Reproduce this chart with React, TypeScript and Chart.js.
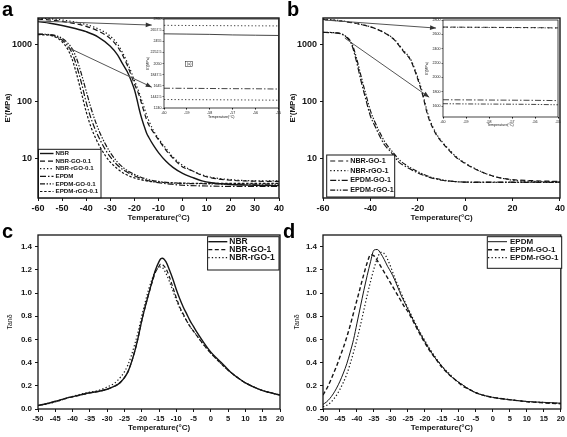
import React, { useEffect, useRef } from "react";
import { Chart, registerables } from "chart.js";

Chart.register(...registerables);

const FONT = "'Liberation Sans', Arial, Helvetica, sans-serif";
const INK = "#151515";

// ---------------- data ----------------
// Panel a : storage modulus E' (MPa), 0.1 phr fillers
const T_A_NBR = [-60, -55, -50, -45, -40, -35, -30, -27, -25, -23, -21, -20, -19, -18, -17, -16, -15, -14, -12, -10, -7, -4, 0, 4, 8, 12, 20, 30, 40];
const E_A_NBR = [2480, 2320, 2120, 1900, 1650, 1330, 920, 650, 460, 330, 210, 160, 110, 72, 50, 37, 28, 23, 16.5, 12.5, 8.9, 6.9, 5.4, 4.6, 4.0, 3.7, 3.45, 3.35, 3.3];
const E_A_NBR_GO = [2750, 2650, 2500, 2300, 2050, 1700, 1250, 900, 650, 430, 260, 200, 160, 125, 90, 65, 48, 38, 28, 21, 14, 10, 7, 6, 5, 4.5, 4.1, 3.95, 3.9];
const E_A_NBR_RGO = [2850, 2780, 2650, 2450, 2200, 1850, 1380, 1000, 720, 480, 300, 230, 180, 140, 105, 78, 58, 45, 30, 22, 15, 10.5, 7.5, 6, 5.1, 4.6, 4.2, 4.0, 4.0];
const T_A_EPDM = [-60, -57, -54, -52, -50, -48, -46, -44, -42, -40, -38, -36, -34, -32, -30, -27, -24, -20, -15, -10, -5, 0, 10, 20, 30, 40];
const E_A_EPDM = [1480, 1470, 1420, 1330, 1180, 980, 720, 420, 210, 95, 50, 30, 20, 14, 10.5, 7.5, 6, 4.9, 4.1, 3.7, 3.5, 3.35, 3.25, 3.2, 3.2, 3.2];
const E_A_EPDM_GO = [1500, 1490, 1450, 1380, 1260, 1080, 850, 560, 300, 150, 75, 42, 26, 17.5, 12.5, 8.5, 6.5, 5.2, 4.3, 3.9, 3.7, 3.6, 3.55, 3.5, 3.5, 3.5];
const E_A_EPDM_RGO = [1460, 1450, 1390, 1280, 1100, 860, 570, 300, 140, 65, 35, 22, 15, 11, 8.5, 6.5, 5.3, 4.5, 4, 3.8, 3.7, 3.65, 3.6, 3.6, 3.6, 3.6];

// Inset of panel a
const T_IA = [-60, -59, -58, -57, -56, -55];
const E_IA_1 = [2745, 2742, 2740, 2738, 2736, 2734];
const E_IA_2 = [2590, 2585, 2580, 2570, 2565, 2560];
const E_IA_3 = [1600, 1598, 1595, 1592, 1590, 1585];
const E_IA_4 = [1395, 1392, 1390, 1388, 1385, 1382];

// Panel b : storage modulus E' (MPa), 1 phr fillers
const T_B_NBR = [-60, -55, -50, -45, -40, -35, -30, -28, -26, -24, -23, -21, -19, -18, -17, -16, -15, -14, -12, -10, -7, -4, 0, 4, 8, 12, 16, 20, 30, 40];
const E_B_NBR_GO = [2700, 2600, 2450, 2250, 2000, 1650, 1200, 950, 740, 600, 520, 320, 180, 130, 88, 60, 45, 36, 25, 19.5, 14, 10.5, 8, 6.5, 5.5, 4.8, 4.4, 4.2, 4.0, 3.9];
const E_B_NBR_RGO = [2750, 2640, 2480, 2270, 2010, 1660, 1220, 980, 770, 620, 540, 340, 195, 140, 95, 65, 48, 38, 26, 20, 14.5, 10.8, 8.2, 6.6, 5.5, 4.8, 4.4, 4.1, 3.9, 3.85];
const T_B_EPDM = [-60, -57, -54, -52, -50, -48, -46, -44, -42, -40, -38, -36, -34, -32, -30, -28, -25, -20, -15, -10, -5, 0, 10, 20, 30, 40];
const E_B_EPDM_GO = [1600, 1590, 1560, 1480, 1300, 1000, 520, 230, 110, 55, 36, 24, 17, 13.7, 11, 8.5, 7.1, 5.5, 4.6, 4.1, 3.9, 3.8, 3.8, 3.8, 3.8, 3.8];
const E_B_EPDM_RGO = [1610, 1600, 1570, 1500, 1340, 1060, 600, 280, 135, 68, 42, 28, 19.5, 15, 12, 9.5, 7.6, 5.8, 4.7, 4.2, 3.9, 3.8, 3.75, 3.75, 3.75, 3.75];

// Inset of panel b
const T_IB = [-60, -59, -58, -57, -56, -55];
const E_IB_1 = [2702, 2700, 2698, 2696, 2694, 2690];
const E_IB_2 = [2700, 2698, 2696, 2694, 2692, 2688];
const E_IB_3 = [1690, 1688, 1686, 1684, 1682, 1678];
const E_IB_4 = [1635, 1632, 1630, 1628, 1625, 1620];

// Panel c : tan delta, NBR
const T_C = [-50, -47, -44, -41, -38, -35, -32, -30, -28, -27, -26, -25, -24, -23, -22, -21, -20, -19, -18, -17, -16, -15, -14.5, -14, -13, -12, -11, -10, -9, -8, -7, -6, -5, -4, -2, 0, 2, 4, 6, 8, 10, 12, 14, 16, 18, 20];
const D_C_NBR = [0.03, 0.05, 0.075, 0.1, 0.12, 0.14, 0.155, 0.17, 0.195, 0.21, 0.235, 0.27, 0.32, 0.4, 0.5, 0.62, 0.76, 0.88, 0.99, 1.1, 1.2, 1.27, 1.295, 1.3, 1.27, 1.2, 1.12, 1.03, 0.95, 0.88, 0.82, 0.76, 0.71, 0.66, 0.57, 0.49, 0.43, 0.37, 0.31, 0.265, 0.225, 0.195, 0.17, 0.15, 0.135, 0.12];
const D_C_NBR_GO = [0.03, 0.05, 0.072, 0.098, 0.118, 0.138, 0.155, 0.17, 0.195, 0.21, 0.235, 0.27, 0.32, 0.4, 0.5, 0.62, 0.76, 0.88, 0.99, 1.09, 1.18, 1.23, 1.25, 1.245, 1.21, 1.14, 1.05, 0.96, 0.88, 0.82, 0.76, 0.71, 0.67, 0.63, 0.55, 0.48, 0.42, 0.36, 0.31, 0.265, 0.225, 0.195, 0.17, 0.15, 0.135, 0.12];
const D_C_NBR_RGO = [0.03, 0.045, 0.07, 0.1, 0.125, 0.145, 0.165, 0.19, 0.22, 0.245, 0.28, 0.32, 0.38, 0.46, 0.56, 0.67, 0.8, 0.92, 1.03, 1.12, 1.19, 1.22, 1.225, 1.22, 1.17, 1.1, 1.02, 0.94, 0.87, 0.81, 0.76, 0.71, 0.67, 0.63, 0.55, 0.48, 0.42, 0.36, 0.31, 0.265, 0.225, 0.195, 0.17, 0.15, 0.135, 0.12];

// Panel d : tan delta, EPDM
const T_D = [-50, -49, -48, -47, -46, -45, -44, -43, -42, -41, -40, -39, -38, -37, -36, -35, -34, -33, -32, -31, -30, -29, -28, -27, -26, -25, -23, -21, -19, -17, -15, -13, -11, -9, -7, -5, -3, 0, 5, 10, 15, 20];
const D_D_EPDM = [0.04, 0.06, 0.09, 0.13, 0.18, 0.24, 0.31, 0.39, 0.49, 0.6, 0.74, 0.88, 1.02, 1.15, 1.27, 1.37, 1.375, 1.34, 1.29, 1.23, 1.18, 1.12, 1.05, 0.98, 0.92, 0.86, 0.74, 0.63, 0.53, 0.44, 0.37, 0.3, 0.25, 0.21, 0.17, 0.14, 0.12, 0.1, 0.08, 0.065, 0.057, 0.05];
const D_D_EPDM_GO = [0.12, 0.17, 0.23, 0.3, 0.37, 0.45, 0.53, 0.62, 0.72, 0.83, 0.94, 1.05, 1.16, 1.26, 1.33, 1.32, 1.28, 1.23, 1.18, 1.13, 1.08, 1.03, 0.98, 0.93, 0.88, 0.84, 0.73, 0.62, 0.52, 0.44, 0.36, 0.3, 0.25, 0.2, 0.17, 0.14, 0.12, 0.1, 0.08, 0.063, 0.053, 0.045];
const D_D_EPDM_RGO = [0.02, 0.03, 0.05, 0.08, 0.12, 0.17, 0.23, 0.3, 0.39, 0.49, 0.6, 0.72, 0.85, 0.98, 1.1, 1.21, 1.3, 1.35, 1.34, 1.29, 1.22, 1.14, 1.07, 1.0, 0.93, 0.87, 0.75, 0.64, 0.54, 0.45, 0.37, 0.31, 0.25, 0.21, 0.17, 0.14, 0.12, 0.1, 0.08, 0.065, 0.056, 0.048];

const E_TICKS = [10, 100, 1000];

// ---------------- styles ----------------
const SOLID: number[] = [];
const DASH = [5, 3];
const DOT = [1.3, 2.2];
const DASH_DOT = [6, 2, 1.5, 2];
const DASH_DOT_DOT = [5, 1.6, 1.4, 1.6, 1.4, 1.6];
const SHORT_DASH = [2.4, 1.8];

type Line = { label: string; t: number[]; v: number[]; dash: number[]; width?: number };

function toDataset(l: Line) {
  return {
    label: l.label,
    data: l.t.map((x, i) => ({ x, y: l.v[i] })),
    borderColor: INK,
    borderWidth: l.width ?? 1.2,
    borderDash: l.dash,
    pointRadius: 0,
    fill: false,
    cubicInterpolationMode: "monotone",
  };
}

const decor = {
  id: "decor",
  beforeDraw(chart: any, _a: any, o: any) {
    if (!o || !o.fill) return;
    const { ctx, chartArea: ca } = chart;
    ctx.save();
    ctx.fillStyle = "#fff";
    ctx.fillRect(ca.left, ca.top, ca.right - ca.left, ca.bottom - ca.top);
    ctx.restore();
  },
  afterDraw(chart: any, _a: any, o: any) {
    if (!o) return;
    const { ctx, chartArea: ca } = chart;
    const xs = chart.scales.x;
    const ys = chart.scales.y;
    ctx.save();
    (o.arrows || []).forEach((a: any) => {
      const x1 = xs.getPixelForValue(a.from[0]);
      const y1 = ys.getPixelForValue(a.from[1]);
      const x2 = xs.getPixelForValue(a.to[0]);
      const y2 = ys.getPixelForValue(a.to[1]);
      ctx.setLineDash([]);
      ctx.strokeStyle = "#555";
      ctx.lineWidth = 1;
      ctx.beginPath();
      ctx.moveTo(x1, y1);
      ctx.lineTo(x2, y2);
      ctx.stroke();
      const ang = Math.atan2(y2 - y1, x2 - x1);
      const L = 6, W = 2.4;
      const c = Math.cos(ang), s = Math.sin(ang);
      ctx.fillStyle = "#333";
      ctx.beginPath();
      ctx.moveTo(x2, y2);
      ctx.lineTo(x2 - L * c + W * s, y2 - L * s - W * c);
      ctx.lineTo(x2 - L * c - W * s, y2 - L * s + W * c);
      ctx.closePath();
      ctx.fill();
    });
    (o.notes || []).forEach((n: any) => {
      ctx.font = `${n.size}px ${FONT}`;
      ctx.fillStyle = INK;
      ctx.textAlign = "center";
      ctx.textBaseline = "middle";
      const x = xs.getPixelForValue(n.at[0]);
      const y = ys.getPixelForValue(n.at[1]);
      ctx.fillText(n.text, x, y);
      ctx.lineWidth = 0.5;
      ctx.strokeStyle = INK;
      ctx.strokeRect(x - 3.5, y - 2.5, 7, 5);
    });
    ctx.setLineDash([]);
    ctx.strokeStyle = INK;
    ctx.lineWidth = o.frame || 1.2;
    ctx.strokeRect(ca.left, ca.top, ca.right - ca.left, ca.bottom - ca.top);
    const lg = o.legend;
    if (lg) {
      const bx = ca.left + lg.x, by = ca.top + lg.y;
      ctx.fillStyle = "#fff";
      ctx.fillRect(bx, by, lg.w, lg.h);
      ctx.lineWidth = 1;
      ctx.strokeStyle = INK;
      ctx.strokeRect(bx, by, lg.w, lg.h);
      ctx.font = `bold ${lg.size}px ${FONT}`;
      ctx.textBaseline = "middle";
      ctx.textAlign = "left";
      chart.data.datasets.forEach((d: any, i: number) => {
        const y = by + lg.first + i * lg.gap;
        ctx.setLineDash(d.borderDash || []);
        ctx.lineWidth = d.borderWidth;
        ctx.strokeStyle = d.borderColor;
        ctx.beginPath();
        ctx.moveTo(bx + lg.l0, y);
        ctx.lineTo(bx + lg.l1, y);
        ctx.stroke();
        ctx.setLineDash([]);
        ctx.fillStyle = INK;
        ctx.fillText(d.label, bx + lg.tx, y);
      });
    }
    if (o.letter) {
      ctx.font = `bold 20px ${FONT}`;
      ctx.fillStyle = "#000";
      ctx.textAlign = "left";
      ctx.textBaseline = "alphabetic";
      ctx.fillText(o.letter.text, o.letter.x, o.letter.y);
    }
    ctx.restore();
  },
};

function tempAxis(min: number, max: number, step: number, tickSize: number, titleSize: number, height: number, titlePad: number, tickLen = 3, tickPad = 2, bold = true) {
  return {
    type: "linear",
    min,
    max,
    ticks: {
      stepSize: step,
      autoSkip: false,
      maxRotation: 0,
      includeBounds: false,
      maxTicksLimit: 200,
      padding: tickPad,
      color: INK,
      font: { family: FONT, size: tickSize, weight: bold ? "bold" : "normal" },
      callback: (v: any) => String(v),
    },
    grid: { drawOnChartArea: false, drawTicks: true, tickLength: tickLen, color: INK, lineWidth: 1 },
    border: { display: false },
    title: {
      display: true,
      text: "Temperature(°C)",
      color: INK,
      font: { family: FONT, size: titleSize, weight: bold ? "bold" : "normal" },
      padding: { top: 0, bottom: titlePad },
    },
    afterFit: (s: any) => {
      s.height = height;
    },
  };
}

function modAxis(width: number, titlePad: number) {
  return {
    type: "logarithmic",
    min: 2,
    max: 2870,
    afterBuildTicks: (s: any) => {
      s.ticks = E_TICKS.map((v) => ({ value: v, major: true }));
    },
    ticks: {
      autoSkip: false,
      padding: 3,
      color: INK,
      font: { family: FONT, size: 9, weight: "bold" },
      callback: (v: any) => String(v),
    },
    grid: { drawOnChartArea: false, drawTicks: true, tickLength: 3, color: INK, lineWidth: 1 },
    border: { display: false },
    title: {
      display: true,
      text: "E'(MPa)",
      color: INK,
      font: { family: FONT, size: 8, weight: "bold" },
      padding: { top: titlePad, bottom: 0 },
    },
    afterFit: (s: any) => {
      s.width = width;
    },
  };
}

function tanAxis(width: number, titlePad: number) {
  return {
    type: "linear",
    min: 0,
    max: 1.5,
    ticks: {
      stepSize: 0.2,
      includeBounds: false,
      autoSkip: false,
      padding: 3,
      color: INK,
      font: { family: FONT, size: 8, weight: "bold" },
      callback: (v: any) => Number(v).toFixed(1),
    },
    grid: { drawOnChartArea: false, drawTicks: true, tickLength: 3, color: INK, lineWidth: 1 },
    border: { display: false },
    title: {
      display: true,
      text: "Tanδ",
      color: INK,
      font: { family: FONT, size: 7 },
      padding: { top: titlePad, bottom: 0 },
    },
    afterFit: (s: any) => {
      s.width = width;
    },
  };
}

function insetYAxis(min: number, max: number, width: number, titlePad: number) {
  return {
    type: "linear",
    min,
    max,
    ticks: {
      stepSize: 200,
      includeBounds: false,
      autoSkip: false,
      padding: 1,
      color: INK,
      font: { family: FONT, size: 3.6 },
      callback: (v: any) => String(v),
    },
    grid: { drawOnChartArea: false, drawTicks: true, tickLength: 1.5, color: INK, lineWidth: 0.6 },
    border: { display: false },
    title: {
      display: true,
      text: "E'(MPa)",
      color: INK,
      font: { family: FONT, size: 3.6 },
      padding: { top: titlePad, bottom: 0 },
    },
    afterFit: (s: any) => {
      s.width = width;
    },
  };
}

function baseOptions(padding: any, scales: any, decorOpts: any) {
  return {
    responsive: false,
    animation: false,
    events: [],
    layout: { padding },
    plugins: { legend: { display: false }, tooltip: { enabled: false }, decor: decorOpts },
    scales,
  };
}

const CONFIG_A = () => ({
  type: "line",
  data: {
    datasets: [
      { label: "NBR", t: T_A_NBR, v: E_A_NBR, dash: SOLID, width: 1.4 },
      { label: "NBR-GO-0.1", t: T_A_NBR, v: E_A_NBR_GO, dash: DASH },
      { label: "NBR-rGO-0.1", t: T_A_NBR, v: E_A_NBR_RGO, dash: DOT },
      { label: "EPDM", t: T_A_EPDM, v: E_A_EPDM, dash: DASH_DOT },
      { label: "EPDM-GO-0.1", t: T_A_EPDM, v: E_A_EPDM_GO, dash: DASH_DOT_DOT },
      { label: "EPDM-rGO-0.1", t: T_A_EPDM, v: E_A_EPDM_RGO, dash: SHORT_DASH },
    ].map(toDataset),
  },
  options: baseOptions(
    { top: 18, right: 11, left: 0, bottom: 0 },
    { x: tempAxis(-60, 40, 10, 9, 8, 28, 3.2), y: modAxis(38, 3.2) },
    {
      letter: { text: "a", x: 2, y: 15.5 },
      frame: 1.4,
      arrows: [
        { from: [-59.9, 2535], to: [-12.8, 2154] },
        { from: [-47.9, 886], to: [-12.8, 176] },
      ],
      legend: { x: 0.5, y: 131.3, w: 62.5, h: 48.5, first: 4.2, gap: 7.6, l0: 1.5, l1: 15, tx: 17, size: 6.2 },
    }
  ),
  plugins: [decor],
});

const CONFIG_IA = () => ({
  type: "line",
  data: {
    datasets: [
      { label: "1", t: T_IA, v: E_IA_1, dash: DOT, width: 0.8 },
      { label: "2", t: T_IA, v: E_IA_2, dash: SOLID, width: 0.8 },
      { label: "3", t: T_IA, v: E_IA_3, dash: DASH_DOT, width: 0.8 },
      { label: "4", t: T_IA, v: E_IA_4, dash: DOT, width: 0.8 },
    ].map(toDataset),
  },
  options: baseOptions(
    { top: 5, right: 3, left: 0, bottom: 0 },
    { x: tempAxis(-60, -55, 1, 3.6, 3.6, 14, 2.6, 1.5, 1, false), y: insetYAxis(1240, 2860, 24, 5.6) },
    { fill: true, frame: 0.8, notes: [{ at: [-58.9, 2040], text: "(a)", size: 3.6 }] }
  ),
  plugins: [decor],
});

const CONFIG_B = () => ({
  type: "line",
  data: {
    datasets: [
      { label: "NBR-GO-1", t: T_B_NBR, v: E_B_NBR_GO, dash: DASH },
      { label: "NBR-rGO-1", t: T_B_NBR, v: E_B_NBR_RGO, dash: DOT },
      { label: "EPDM-GO-1", t: T_B_EPDM, v: E_B_EPDM_GO, dash: DASH_DOT },
      { label: "EPDM-rGO-1", t: T_B_EPDM, v: E_B_EPDM_RGO, dash: DASH_DOT_DOT },
    ].map(toDataset),
  },
  options: baseOptions(
    { top: 18, right: 5, left: 0, bottom: 0 },
    { x: tempAxis(-60, 40, 20, 9, 8, 28, 3.2), y: modAxis(40, 5.2) },
    {
      letter: { text: "b", x: 4, y: 15.5 },
      frame: 1.4,
      arrows: [
        { from: [-59.2, 2640], to: [-12.3, 1910] },
        { from: [-50.8, 1275], to: [-15.2, 117] },
      ],
      legend: { x: 3.7, y: 137, w: 68, h: 42, first: 6, gap: 9.7, l0: 3.5, l1: 21.5, tx: 23.5, size: 7.2 },
    }
  ),
  plugins: [decor],
});

const CONFIG_IB = () => ({
  type: "line",
  data: {
    datasets: [
      { label: "1", t: T_IB, v: E_IB_1, dash: DASH, width: 0.8 },
      { label: "2", t: T_IB, v: E_IB_2, dash: DOT, width: 0.8 },
      { label: "3", t: T_IB, v: E_IB_3, dash: DASH_DOT, width: 0.8 },
      { label: "4", t: T_IB, v: E_IB_4, dash: DASH_DOT_DOT, width: 0.8 },
    ].map(toDataset),
  },
  options: baseOptions(
    { top: 6, right: 4, left: 0, bottom: 0 },
    { x: tempAxis(-60, -55, 1, 3.6, 3.6, 11, 0.6, 1.5, 1, false), y: insetYAxis(1450, 2800, 23, 5) },
    { fill: true, frame: 0.8 }
  ),
  plugins: [decor],
});

const CONFIG_C = () => ({
  type: "line",
  data: {
    datasets: [
      { label: "NBR", t: T_C, v: D_C_NBR, dash: SOLID, width: 1.4 },
      { label: "NBR-GO-1", t: T_C, v: D_C_NBR_GO, dash: [4, 2.5] },
      { label: "NBR-rGO-1", t: T_C, v: D_C_NBR_RGO, dash: DOT },
    ].map(toDataset),
  },
  options: baseOptions(
    { top: 13, right: 10, left: 0, bottom: 0 },
    { x: tempAxis(-50, 20, 5, 7.5, 8, 28, 4.2), y: tanAxis(38, 5.8) },
    {
      letter: { text: "c", x: 2, y: 16 },
      frame: 1.3,
      legend: { x: 169.6, y: 1.7, w: 71.4, h: 33.3, first: 5, gap: 8, l0: 0.7, l1: 19.7, tx: 21.7, size: 8.5 },
    }
  ),
  plugins: [decor],
});

const CONFIG_D = () => ({
  type: "line",
  data: {
    datasets: [
      { label: "EPDM", t: T_D, v: D_D_EPDM, dash: SOLID, width: 1 },
      { label: "EPDM-GO-1", t: T_D, v: D_D_EPDM_GO, dash: [4, 2.5], width: 1.4 },
      { label: "EPDM-rGO-1", t: T_D, v: D_D_EPDM_RGO, dash: DOT },
    ].map(toDataset),
  },
  options: baseOptions(
    { top: 13, right: 5, left: 0, bottom: 0 },
    { x: tempAxis(-50, 20, 5, 7.5, 8, 28, 4.2), y: tanAxis(40, 9.8) },
    {
      letter: { text: "d", x: 0, y: 16 },
      frame: 1.3,
      legend: { x: 164.3, y: 1.7, w: 74.4, h: 31.6, first: 5, gap: 8, l0: 0.7, l1: 19.7, tx: 22.7, size: 8 },
    }
  ),
  plugins: [decor],
});

function ChartCanvas(props: { left: number; top: number; width: number; height: number; make: () => any }) {
  const ref = useRef<HTMLCanvasElement>(null);
  useEffect(() => {
    const chart = new Chart(ref.current as HTMLCanvasElement, props.make());
    return () => chart.destroy();
  }, []);
  return (
    <canvas
      ref={ref}
      width={props.width}
      height={props.height}
      style={{ position: "absolute", left: props.left, top: props.top, width: props.width, height: props.height }}
    />
  );
}

export default function App() {
  return (
    <div style={{ position: "fixed", left: 0, top: 0, width: 567, height: 437, background: "#fff", overflow: "hidden" }}>
      <ChartCanvas left={0} top={0} width={290} height={226} make={CONFIG_A} />
      <ChartCanvas left={283} top={0} width={284} height={226} make={CONFIG_B} />
      <ChartCanvas left={0} top={222} width={290} height={215} make={CONFIG_C} />
      <ChartCanvas left={283} top={222} width={284} height={215} make={CONFIG_D} />
      <ChartCanvas left={140} top={14} width={142} height={108} make={CONFIG_IA} />
      <ChartCanvas left={420} top={14} width={142} height={114} make={CONFIG_IB} />
    </div>
  );
}
